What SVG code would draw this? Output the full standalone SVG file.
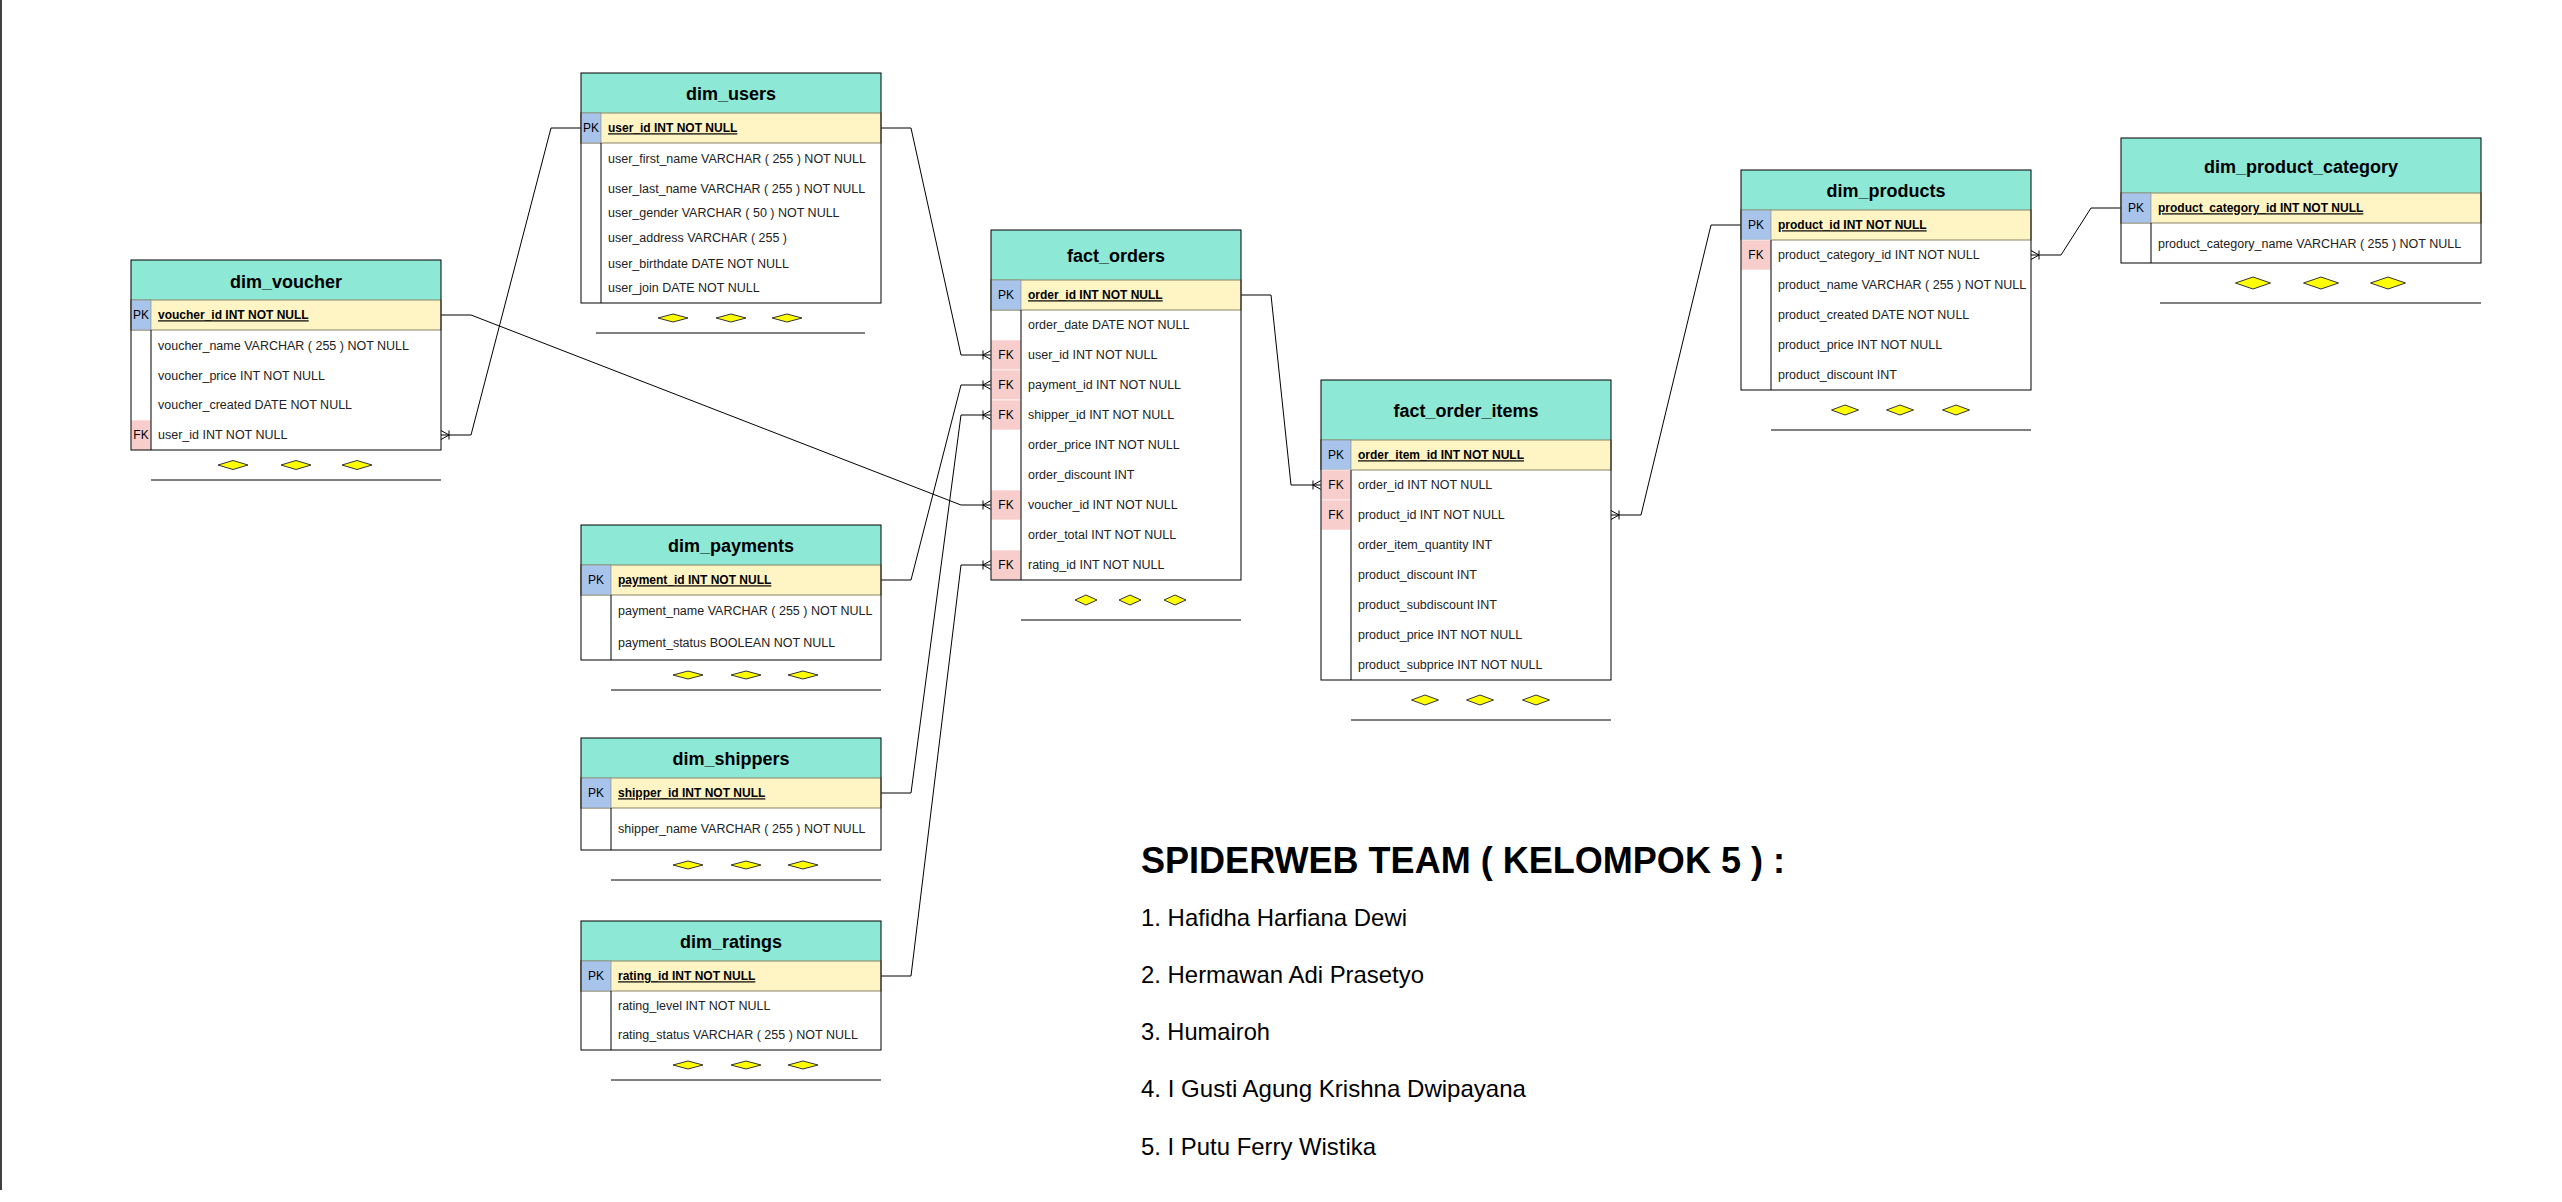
<svg xmlns="http://www.w3.org/2000/svg" width="2562" height="1202" viewBox="0 0 2562 1202">
<style>
.bg{fill:#ffffff;stroke:none}
.frame{fill:none;stroke:#000;stroke-width:1}
.hdr{fill:#8de8d6;stroke:none}
.pkrow{fill:#fff4c4;stroke:#8a8466;stroke-width:1}
.pk{fill:#a9c4eb;stroke:#8a8466;stroke-width:0.6}
.fk{fill:#f8cecc;stroke:#ffffff;stroke-width:0.6}
.div{stroke:#000;stroke-width:1}
.t{font-family:"Liberation Sans",Arial,sans-serif;font-size:18px;font-weight:bold;text-anchor:middle;fill:#000}
.k{font-family:"Liberation Sans",Arial,sans-serif;font-size:12px;text-anchor:middle;fill:#000}
.pkt{font-family:"Liberation Sans",Arial,sans-serif;font-size:12px;font-weight:bold;text-decoration:underline;fill:#000}
.f{font-family:"Liberation Sans",Arial,sans-serif;font-size:12.5px;fill:#222}
.dm{fill:#ffff00;stroke:#333;stroke-width:1}
.ul{stroke:#000;stroke-width:1}
.cn{fill:none;stroke:#000;stroke-width:1}
.team{font-family:"Liberation Sans",Arial,sans-serif;fill:#000}
</style>
<defs>
<marker id="many" viewBox="-10 -6 11 12" refX="0" refY="0" markerWidth="11" markerHeight="12" markerUnits="userSpaceOnUse" orient="auto">
<path d="M-8,-4.5 V4.5 M-8,0 L0,-4.5 M-8,0 L0,4.5" fill="none" stroke="#000" stroke-width="1"/>
</marker>
</defs>
<rect x="0" y="0" width="2562" height="1202" fill="#ffffff"/>
<line x1="1" y1="0" x2="1" y2="1190" stroke="#000" stroke-width="1.5"/>

<g id="connectors">
<path class="cn" d="M881,128 H911 L961,355 H991" marker-end="url(#many)"/>
<path class="cn" d="M581,128 H551 L471,435 H441" marker-end="url(#many)"/>
<path class="cn" d="M441,315 H471 L961,505 H991" marker-end="url(#many)"/>
<path class="cn" d="M881,580 H911 L961,385 H991" marker-end="url(#many)"/>
<path class="cn" d="M881,793 H911 L961,415 H991" marker-end="url(#many)"/>
<path class="cn" d="M881,976 H911 L961,565 H991" marker-end="url(#many)"/>
<path class="cn" d="M1241,295 H1271 L1291,485 H1321" marker-end="url(#many)"/>
<path class="cn" d="M1741,225 H1711 L1641,515 H1611" marker-end="url(#many)"/>
<path class="cn" d="M2121,208 H2091 L2061,255 H2031" marker-end="url(#many)"/>
</g>

<g id="dim_users">
<rect class="bg" x="581" y="73" width="300" height="230"/>
<rect class="hdr" x="581" y="73" width="300" height="40"/>
<rect class="pkrow" x="581" y="113" width="300" height="30"/>
<rect class="pk" x="581" y="113" width="20" height="30"/>
<line class="div" x1="601" y1="143" x2="601" y2="303"/>
<rect class="frame" x="581" y="73" width="300" height="230"/>
<text class="t" x="731" y="99.5">dim_users</text>
<text class="k" x="591" y="132.3">PK</text>
<text class="pkt" x="608" y="132.3">user_id INT NOT NULL</text>
<text class="f" x="608" y="163.3">user_first_name VARCHAR ( 255 ) NOT NULL</text>
<text class="f" x="608" y="193.3">user_last_name VARCHAR ( 255 ) NOT NULL</text>
<text class="f" x="608" y="217.3">user_gender VARCHAR ( 50 ) NOT NULL</text>
<text class="f" x="608" y="242.3">user_address VARCHAR ( 255 )</text>
<text class="f" x="608" y="268.3">user_birthdate DATE NOT NULL</text>
<text class="f" x="608" y="292.3">user_join DATE NOT NULL</text>
<polygon class="dm" points="658,318 673,314 688,318 673,322"/>
<polygon class="dm" points="716,318 731,314 746,318 731,322"/>
<polygon class="dm" points="772,318 787,314 802,318 787,322"/>
<line class="ul" x1="596" y1="333" x2="865" y2="333"/>
</g>

<g id="dim_voucher">
<rect class="bg" x="131" y="260" width="310" height="190"/>
<rect class="hdr" x="131" y="260" width="310" height="40"/>
<rect class="pkrow" x="131" y="300" width="310" height="30"/>
<rect class="pk" x="131" y="300" width="20" height="30"/>
<rect class="fk" x="131" y="420" width="20" height="30"/>
<line class="div" x1="151" y1="330" x2="151" y2="450"/>
<rect class="frame" x="131" y="260" width="310" height="190"/>
<text class="t" x="286" y="287.5">dim_voucher</text>
<text class="k" x="141" y="319.3">PK</text>
<text class="pkt" x="158" y="319.3">voucher_id INT NOT NULL</text>
<text class="f" x="158" y="350.3">voucher_name VARCHAR ( 255 ) NOT NULL</text>
<text class="f" x="158" y="380.3">voucher_price INT NOT NULL</text>
<text class="f" x="158" y="409.3">voucher_created DATE NOT NULL</text>
<text class="k" x="141" y="439.3">FK</text>
<text class="f" x="158" y="439.3">user_id INT NOT NULL</text>
<polygon class="dm" points="218,465 233,460.5 248,465 233,469.5"/>
<polygon class="dm" points="281,465 296,460.5 311,465 296,469.5"/>
<polygon class="dm" points="342,465 357,460.5 372,465 357,469.5"/>
<line class="ul" x1="151" y1="480" x2="441" y2="480"/>
</g>

<g id="fact_orders">
<rect class="bg" x="991" y="230" width="250" height="350"/>
<rect class="hdr" x="991" y="230" width="250" height="50"/>
<rect class="pkrow" x="991" y="280" width="250" height="30"/>
<rect class="pk" x="991" y="280" width="30" height="30"/>
<rect class="fk" x="991" y="340" width="30" height="30"/>
<rect class="fk" x="991" y="370" width="30" height="30"/>
<rect class="fk" x="991" y="400" width="30" height="30"/>
<rect class="fk" x="991" y="490" width="30" height="30"/>
<rect class="fk" x="991" y="550" width="30" height="30"/>
<line class="div" x1="1021" y1="310" x2="1021" y2="580"/>
<rect class="frame" x="991" y="230" width="250" height="350"/>
<text class="t" x="1116" y="261.5">fact_orders</text>
<text class="k" x="1006" y="299.3">PK</text>
<text class="pkt" x="1028" y="299.3">order_id INT NOT NULL</text>
<text class="f" x="1028" y="329.3">order_date DATE NOT NULL</text>
<text class="k" x="1006" y="359.3">FK</text>
<text class="f" x="1028" y="359.3">user_id INT NOT NULL</text>
<text class="k" x="1006" y="389.3">FK</text>
<text class="f" x="1028" y="389.3">payment_id INT NOT NULL</text>
<text class="k" x="1006" y="419.3">FK</text>
<text class="f" x="1028" y="419.3">shipper_id INT NOT NULL</text>
<text class="f" x="1028" y="449.3">order_price INT NOT NULL</text>
<text class="f" x="1028" y="479.3">order_discount INT</text>
<text class="k" x="1006" y="509.3">FK</text>
<text class="f" x="1028" y="509.3">voucher_id INT NOT NULL</text>
<text class="f" x="1028" y="539.3">order_total INT NOT NULL</text>
<text class="k" x="1006" y="569.3">FK</text>
<text class="f" x="1028" y="569.3">rating_id INT NOT NULL</text>
<polygon class="dm" points="1075,600 1086,595 1097,600 1086,605"/>
<polygon class="dm" points="1119,600 1130,595 1141,600 1130,605"/>
<polygon class="dm" points="1164,600 1175,595 1186,600 1175,605"/>
<line class="ul" x1="1021" y1="620" x2="1241" y2="620"/>
</g>

<g id="fact_order_items">
<rect class="bg" x="1321" y="380" width="290" height="300"/>
<rect class="hdr" x="1321" y="380" width="290" height="60"/>
<rect class="pkrow" x="1321" y="440" width="290" height="30"/>
<rect class="pk" x="1321" y="440" width="30" height="30"/>
<rect class="fk" x="1321" y="470" width="30" height="30"/>
<rect class="fk" x="1321" y="500" width="30" height="30"/>
<line class="div" x1="1351" y1="470" x2="1351" y2="680"/>
<rect class="frame" x="1321" y="380" width="290" height="300"/>
<text class="t" x="1466" y="416.5">fact_order_items</text>
<text class="k" x="1336" y="459.3">PK</text>
<text class="pkt" x="1358" y="459.3">order_item_id INT NOT NULL</text>
<text class="k" x="1336" y="489.3">FK</text>
<text class="f" x="1358" y="489.3">order_id INT NOT NULL</text>
<text class="k" x="1336" y="519.3">FK</text>
<text class="f" x="1358" y="519.3">product_id INT NOT NULL</text>
<text class="f" x="1358" y="549.3">order_item_quantity INT</text>
<text class="f" x="1358" y="579.3">product_discount INT</text>
<text class="f" x="1358" y="609.3">product_subdiscount INT</text>
<text class="f" x="1358" y="639.3">product_price INT NOT NULL</text>
<text class="f" x="1358" y="669.3">product_subprice INT NOT NULL</text>
<polygon class="dm" points="1411.5,700 1425,695 1438.5,700 1425,705"/>
<polygon class="dm" points="1466.5,700 1480,695 1493.5,700 1480,705"/>
<polygon class="dm" points="1522.5,700 1536,695 1549.5,700 1536,705"/>
<line class="ul" x1="1351" y1="720" x2="1611" y2="720"/>
</g>

<g id="dim_products">
<rect class="bg" x="1741" y="170" width="290" height="220"/>
<rect class="hdr" x="1741" y="170" width="290" height="40"/>
<rect class="pkrow" x="1741" y="210" width="290" height="30"/>
<rect class="pk" x="1741" y="210" width="30" height="30"/>
<rect class="fk" x="1741" y="240" width="30" height="30"/>
<line class="div" x1="1771" y1="240" x2="1771" y2="390"/>
<rect class="frame" x="1741" y="170" width="290" height="220"/>
<text class="t" x="1886" y="196.5">dim_products</text>
<text class="k" x="1756" y="229.3">PK</text>
<text class="pkt" x="1778" y="229.3">product_id INT NOT NULL</text>
<text class="k" x="1756" y="259.3">FK</text>
<text class="f" x="1778" y="259.3">product_category_id INT NOT NULL</text>
<text class="f" x="1778" y="289.3">product_name VARCHAR ( 255 ) NOT NULL</text>
<text class="f" x="1778" y="319.3">product_created DATE NOT NULL</text>
<text class="f" x="1778" y="349.3">product_price INT NOT NULL</text>
<text class="f" x="1778" y="379.3">product_discount INT</text>
<polygon class="dm" points="1831.5,410 1845,405 1858.5,410 1845,415"/>
<polygon class="dm" points="1886.5,410 1900,405 1913.5,410 1900,415"/>
<polygon class="dm" points="1942.5,410 1956,405 1969.5,410 1956,415"/>
<line class="ul" x1="1771" y1="430" x2="2031" y2="430"/>
</g>

<g id="dim_product_category">
<rect class="bg" x="2121" y="138" width="360" height="125"/>
<rect class="hdr" x="2121" y="138" width="360" height="55"/>
<rect class="pkrow" x="2121" y="193" width="360" height="30"/>
<rect class="pk" x="2121" y="193" width="30" height="30"/>
<line class="div" x1="2151" y1="223" x2="2151" y2="263"/>
<rect class="frame" x="2121" y="138" width="360" height="125"/>
<text class="t" x="2301" y="172.5">dim_product_category</text>
<text class="k" x="2136" y="212.3">PK</text>
<text class="pkt" x="2158" y="212.3">product_category_id INT NOT NULL</text>
<text class="f" x="2158" y="248.3">product_category_name VARCHAR ( 255 ) NOT NULL</text>
<polygon class="dm" points="2235.5,283 2253,277 2270.5,283 2253,289"/>
<polygon class="dm" points="2303.5,283 2321,277 2338.5,283 2321,289"/>
<polygon class="dm" points="2370.5,283 2388,277 2405.5,283 2388,289"/>
<line class="ul" x1="2160" y1="303" x2="2481" y2="303"/>
</g>

<g id="dim_payments">
<rect class="bg" x="581" y="525" width="300" height="135"/>
<rect class="hdr" x="581" y="525" width="300" height="40"/>
<rect class="pkrow" x="581" y="565" width="300" height="30"/>
<rect class="pk" x="581" y="565" width="30" height="30"/>
<line class="div" x1="611" y1="595" x2="611" y2="660"/>
<rect class="frame" x="581" y="525" width="300" height="135"/>
<text class="t" x="731" y="551.5">dim_payments</text>
<text class="k" x="596" y="584.3">PK</text>
<text class="pkt" x="618" y="584.3">payment_id INT NOT NULL</text>
<text class="f" x="618" y="615.3">payment_name VARCHAR ( 255 ) NOT NULL</text>
<text class="f" x="618" y="647.3">payment_status BOOLEAN NOT NULL</text>
<polygon class="dm" points="673,675 688,671 703,675 688,679"/>
<polygon class="dm" points="731,675 746,671 761,675 746,679"/>
<polygon class="dm" points="788,675 803,671 818,675 803,679"/>
<line class="ul" x1="611" y1="690" x2="881" y2="690"/>
</g>

<g id="dim_shippers">
<rect class="bg" x="581" y="738" width="300" height="112"/>
<rect class="hdr" x="581" y="738" width="300" height="40"/>
<rect class="pkrow" x="581" y="778" width="300" height="30"/>
<rect class="pk" x="581" y="778" width="30" height="30"/>
<line class="div" x1="611" y1="808" x2="611" y2="850"/>
<rect class="frame" x="581" y="738" width="300" height="112"/>
<text class="t" x="731" y="764.5">dim_shippers</text>
<text class="k" x="596" y="797.3">PK</text>
<text class="pkt" x="618" y="797.3">shipper_id INT NOT NULL</text>
<text class="f" x="618" y="833.3">shipper_name VARCHAR ( 255 ) NOT NULL</text>
<polygon class="dm" points="673,865 688,861 703,865 688,869"/>
<polygon class="dm" points="731,865 746,861 761,865 746,869"/>
<polygon class="dm" points="788,865 803,861 818,865 803,869"/>
<line class="ul" x1="611" y1="880" x2="881" y2="880"/>
</g>

<g id="dim_ratings">
<rect class="bg" x="581" y="921" width="300" height="129"/>
<rect class="hdr" x="581" y="921" width="300" height="40"/>
<rect class="pkrow" x="581" y="961" width="300" height="30"/>
<rect class="pk" x="581" y="961" width="30" height="30"/>
<line class="div" x1="611" y1="991" x2="611" y2="1050"/>
<rect class="frame" x="581" y="921" width="300" height="129"/>
<text class="t" x="731" y="947.5">dim_ratings</text>
<text class="k" x="596" y="980.3">PK</text>
<text class="pkt" x="618" y="980.3">rating_id INT NOT NULL</text>
<text class="f" x="618" y="1010.3">rating_level INT NOT NULL</text>
<text class="f" x="618" y="1039.3">rating_status VARCHAR ( 255 ) NOT NULL</text>
<polygon class="dm" points="673,1065 688,1061 703,1065 688,1069"/>
<polygon class="dm" points="731,1065 746,1061 761,1065 746,1069"/>
<polygon class="dm" points="788,1065 803,1061 818,1065 803,1069"/>
<line class="ul" x1="611" y1="1080" x2="881" y2="1080"/>
</g>

<g id="team">
<text class="team" x="1141" y="873" font-size="36" font-weight="bold" textLength="644" lengthAdjust="spacingAndGlyphs">SPIDERWEB TEAM ( KELOMPOK 5 ) :</text>
<text class="team" x="1141" y="926" font-size="24" textLength="266" lengthAdjust="spacingAndGlyphs">1. Hafidha Harfiana Dewi</text>
<text class="team" x="1141" y="983" font-size="24" textLength="283" lengthAdjust="spacingAndGlyphs">2. Hermawan Adi Prasetyo</text>
<text class="team" x="1141" y="1040" font-size="24" textLength="129" lengthAdjust="spacingAndGlyphs">3. Humairoh</text>
<text class="team" x="1141" y="1097" font-size="24" textLength="385" lengthAdjust="spacingAndGlyphs">4. I Gusti Agung Krishna Dwipayana</text>
<text class="team" x="1141" y="1155" font-size="24" textLength="235" lengthAdjust="spacingAndGlyphs">5. I Putu Ferry Wistika</text>
</g>
</svg>
